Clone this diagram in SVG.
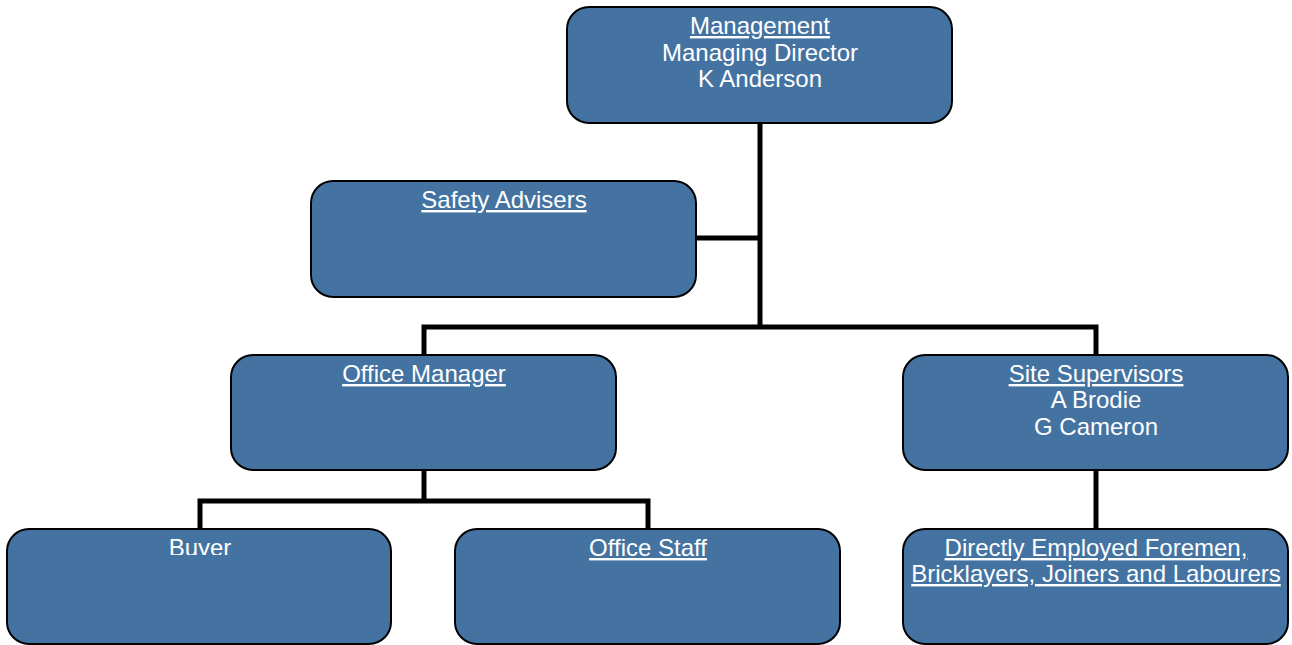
<svg xmlns="http://www.w3.org/2000/svg" width="1292" height="645" viewBox="0 0 1292 645">
<defs>
<style>
.box{fill:#4473a2;stroke:#000;stroke-width:2}
.t{font-family:"Liberation Sans",Arial,sans-serif;font-size:24px;fill:#fff;text-anchor:middle}
.u{text-decoration:underline}
.c{fill:none;stroke:#000;stroke-width:5;stroke-linecap:butt}
</style>
<clipPath id="buyerClip"><rect x="0" y="520" width="400" height="35"/></clipPath>
</defs>
<rect width="1292" height="645" fill="#fff"/>
<g id="connectors">
<path class="c" d="M760 123 V329"/>
<path class="c" d="M696 238 H760"/>
<path class="c" d="M424 355 V327 H1096 V355"/>
<path class="c" d="M424 470 V501"/>
<path class="c" d="M200 529 V501 H648 V529"/>
<path class="c" d="M1096 470 V529"/>
</g>
<g id="management">
<rect class="box" x="567" y="7" width="385" height="116" rx="22"/>
<text class="t u" x="760" y="34">Management</text>
<text class="t" x="760" y="61">Managing Director</text>
<text class="t" x="760" y="87">K Anderson</text>
</g>
<g id="safety">
<rect class="box" x="311" y="181" width="385" height="116" rx="22"/>
<text class="t u" x="504" y="208">Safety Advisers</text>
</g>
<g id="office-manager">
<rect class="box" x="231" y="355" width="385" height="115" rx="22"/>
<text class="t u" x="424" y="382">Office Manager</text>
</g>
<g id="site-supervisors">
<rect class="box" x="903" y="355" width="385" height="115" rx="22"/>
<text class="t u" x="1096" y="382">Site Supervisors</text>
<text class="t" x="1096" y="408">A Brodie</text>
<text class="t" x="1096" y="435">G Cameron</text>
</g>
<g id="buyer">
<rect class="box" x="7" y="529" width="384" height="115" rx="22"/>
<text class="t" x="200" y="556" clip-path="url(#buyerClip)">Buyer</text>
</g>
<g id="office-staff">
<rect class="box" x="455" y="529" width="385" height="115" rx="22"/>
<text class="t u" x="648" y="556">Office Staff</text>
</g>
<g id="foremen">
<rect class="box" x="903" y="529" width="385" height="115" rx="22"/>
<text class="t u" x="1096" y="556">Directly Employed Foremen,</text>
<text class="t u" x="1096" y="582">Bricklayers, Joiners and Labourers</text>
</g>
</svg>
